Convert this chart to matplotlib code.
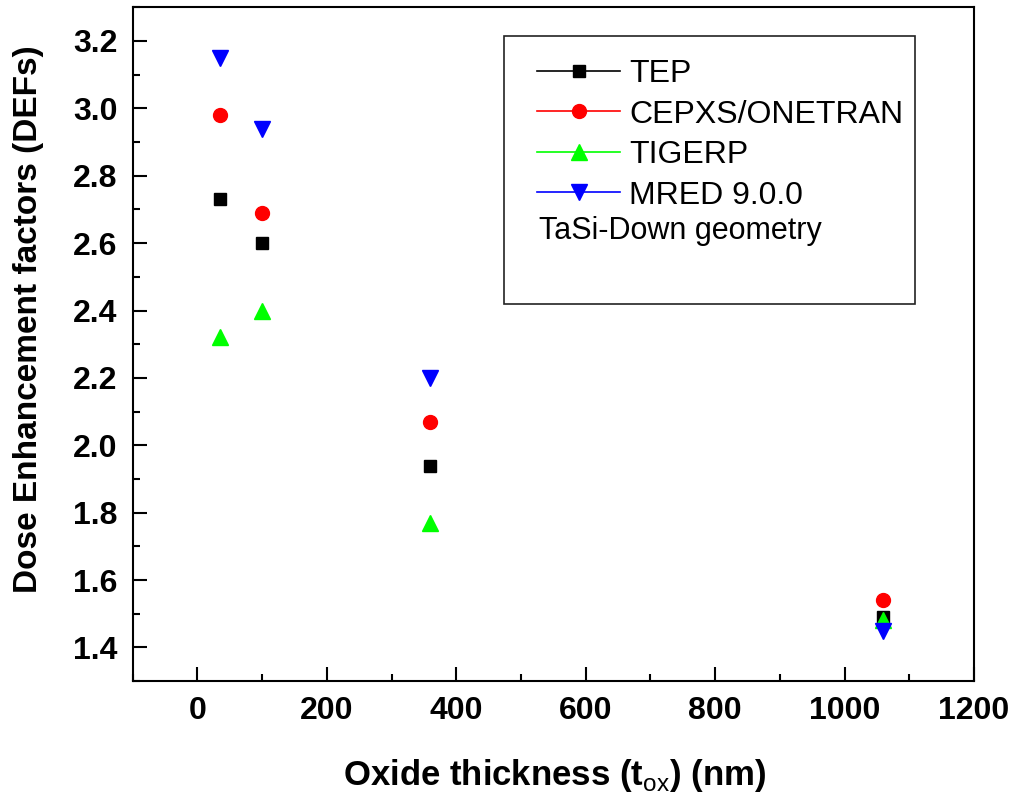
import matplotlib
matplotlib.use("Agg")
import matplotlib.pyplot as plt
from matplotlib.lines import Line2D
from matplotlib.patches import Rectangle
from matplotlib.ticker import MultipleLocator, FormatStrFormatter

# oxide thickness (nm)
tox = [35, 100, 360, 1060]

# dose enhancement factors
tep = [2.73, 2.60, 1.94, 1.49]
cepxs = [2.98, 2.69, 2.07, 1.54]
tigerp = [2.32, 2.40, 1.77, 1.48]
mred = [3.15, 2.94, 2.20, 1.45]

names = ['TEP', 'CEPXS/ONETRAN', 'TIGERP', 'MRED 9.0.0']
colors = ['black', '#ff0000', '#00ff00', '#0000ff']
markers = ['s', 'o', '^', 'v']
msizes = [9, 10, 12, 12]

plt.rcParams['font.family'] = 'Liberation Sans'
plt.rcParams['mathtext.fontset'] = 'custom'
plt.rcParams['mathtext.rm'] = 'Liberation Sans'
plt.rcParams['mathtext.bf'] = 'Liberation Sans:bold'

fig = plt.figure(figsize=(10.21, 8.08), dpi=100)
ax = fig.add_axes([0.130, 0.157, 0.824, 0.834])

handles = []
for vals, name, c, m, ms in zip([tep, cepxs, tigerp, mred], names, colors, markers, msizes):
    ax.plot(tox, vals, linestyle='none', marker=m, color=c, markersize=ms)
    handles.append(Line2D([], [], color=c, lw=1.2, marker=m, markersize=ms))

ax.set_xlim(-100, 1200)
ax.set_ylim(1.3, 3.3)
ax.xaxis.set_major_locator(MultipleLocator(200))
ax.xaxis.set_minor_locator(MultipleLocator(100))
ax.yaxis.set_major_locator(MultipleLocator(0.2))
ax.yaxis.set_minor_locator(MultipleLocator(0.1))
ax.yaxis.set_major_formatter(FormatStrFormatter('%.1f'))

ax.tick_params(which='major', direction='in', length=10, width=1.5,
               labelsize=23, pad=11)
ax.tick_params(which='minor', direction='in', length=5, width=1.5)
for lab in ax.get_xticklabels() + ax.get_yticklabels():
    lab.set_fontweight('bold')
for s in ax.spines.values():
    s.set_linewidth(1.5)

# axis titles placed by hand (y title sits a little above centre)
fig.text(555 / 1021, 1 - 785 / 808, r'Oxide thickness (t$_{\rm ox}$) (nm)',
         fontsize=25, fontweight='bold', ha='center', va='baseline')
fig.text(29 / 1021, 1 - 319 / 808, 'Dose Enhancement factors (DEFs)',
         fontsize=24, fontweight='bold', rotation=90, ha='center', va='center')

leg = fig.legend(handles, names, loc='upper left',
                 bbox_to_anchor=(537 / 1021, 1 - 59 / 808), frameon=False,
                 prop={'size': 23},
                 handlelength=2.6, handletextpad=0.28, labelspacing=0.33,
                 borderpad=0, borderaxespad=0)

fig.text(539 / 1021, 1 - 231 / 808, 'TaSi-Down geometry', fontsize=22,
         va='center', ha='left')
fig.patches.append(Rectangle((504 / 1021, 1 - 304 / 808), 411 / 1021, 268 / 808,
                             transform=fig.transFigure, fill=False,
                             edgecolor='#222222', lw=1.2))

fig.savefig('out.png', dpi=100)
